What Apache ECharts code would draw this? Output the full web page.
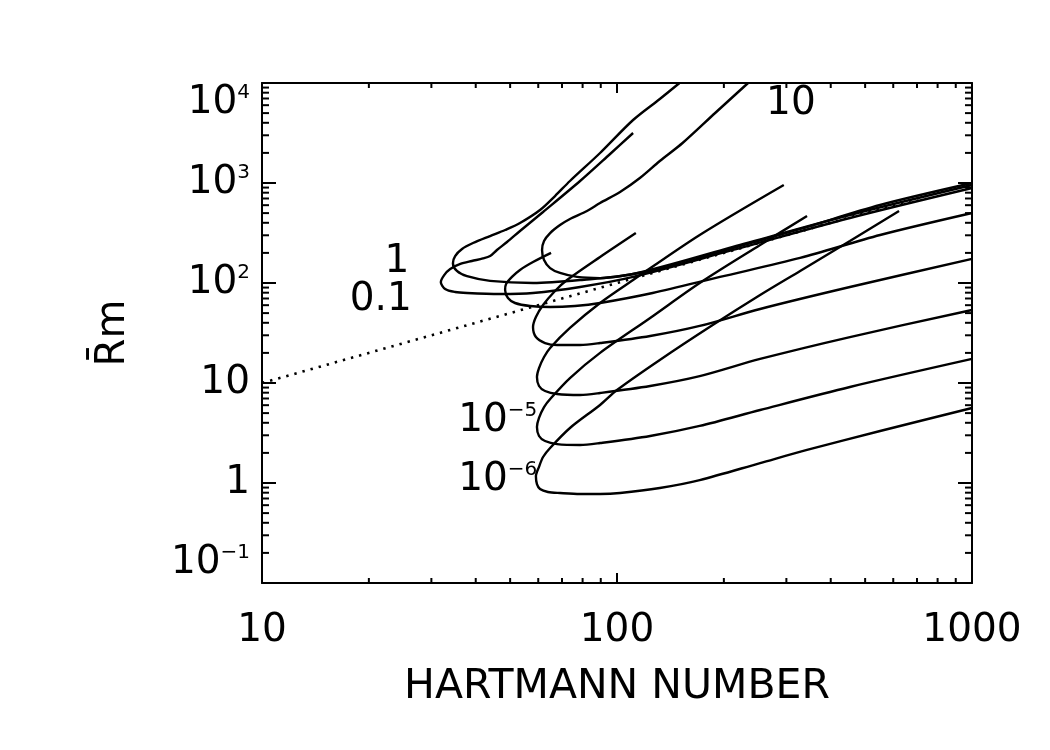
<!DOCTYPE html>
<html>
<head>
<meta charset="utf-8">
<script src="https://cdn.jsdelivr.net/npm/echarts@6/dist/echarts.min.js"></script>
<style>
html, body { margin: 0; padding: 0; background: #fff; }
#main { width: 1050px; height: 750px; }
</style>
</head>
<body>
<div id="main"></div>
<script>
var haRange = [10, 1000];
var rmRange = [0.1, 10000];
var minorSteps = [2, 3, 4, 5, 6, 7, 8, 9];
var haDecades = [10, 100];
var rmDecades = [0.1, 1, 10, 100, 1000];

// [Ha, Rm], one curve per Pm, from the end of the upper branch round to the lower one
var pm1e6 = [[623, 525], [453, 263], [328, 132], [253, 75.9], [186, 38.0], [132, 17.0], [100, 8.51],
  [89.6, 6.03], [73.7, 3.55], [64.8, 2.24], [61.9, 1.82], [60.3, 1.45], [59.1, 1.17], [59.5, 0.977],
  [60.7, 0.871], [63.9, 0.813], [69.1, 0.794], [78.7, 0.776], [89.6, 0.776], [102, 0.794], [132, 0.891],
  [171, 1.07], [253, 1.58], [343, 2.14], [551, 3.31], [1000, 5.62]];
var pm1e5 = [[343, 468], [253, 240], [171, 100], [124, 44.7], [89.6, 20.0], [73.7, 11.2], [65.2, 7.08],
  [62.3, 5.75], [60.3, 4.47], [59.5, 3.63], [60.3, 2.95], [62.7, 2.63], [67.8, 2.45], [78.7, 2.40],
  [89.6, 2.51], [124, 2.95], [171, 3.72], [253, 5.37], [453, 9.12], [1000, 17.4]];
var pm1e4 = [[295, 955], [171, 302], [111, 107], [89.6, 63.1], [73.7, 35.5], [64.8, 22.4], [62.3, 18.2],
  [60.3, 14.1], [59.5, 11.5], [60.3, 9.33], [62.7, 8.32], [67.8, 7.76], [78.7, 7.59], [89.6, 7.94],
  [124, 9.33], [171, 11.7], [253, 17.4], [453, 28.8], [1000, 53.7]];
var pm1e3 = [[113, 316], [89.6, 182], [72.3, 107], [66.9, 83.2], [61.9, 60.3], [59.1, 45.7], [58.0, 36.3],
  [59.1, 28.8], [62.7, 25.1], [67.8, 24.0], [78.7, 24.0], [89.6, 25.1], [124, 29.5], [171, 37.2],
  [253, 55.0], [453, 91.2], [1000, 174]];
var pm1e2 = [[65.2, 200], [58.0, 162], [53.3, 135], [50.6, 115], [48.7, 97.7], [48.4, 85.1], [49.3, 70.8],
  [51.6, 63.1], [56.9, 58.9], [64.8, 57.5], [76.1, 58.9], [89.6, 63.1], [126, 79.4], [195, 115],
  [328, 178], [551, 302], [1000, 501]];
var pm1e1 = [[111, 3162], [95.6, 1950], [78.7, 1047], [61.9, 513], [53.3, 331], [49.0, 257], [45.9, 214],
  [43.9, 186], [41.9, 176], [39.0, 166], [36.2, 155], [33.9, 138], [32.6, 120], [31.9, 102], [32.8, 87.1],
  [35.0, 81.3], [37.8, 79.4], [46.8, 77.6], [58.0, 79.4], [78.7, 91.2], [111, 115], [212, 214],
  [453, 447], [1000, 891]];
var pm1 = [[150, 10000], [132, 6918], [111, 4266], [89.6, 1995], [73.7, 1047], [66.9, 741], [60.7, 537],
  [53.3, 398], [48.4, 339], [43.9, 295], [39.3, 251], [36.6, 219], [35.0, 186], [34.5, 158], [35.4, 132],
  [37.8, 117], [43.9, 105], [58.0, 100], [78.7, 107], [111, 123], [212, 229], [453, 479], [1000, 955]];
var pm10 = [[234, 10000], [189, 5012], [153, 2512], [132, 1660], [116, 1122], [102, 813], [89.6, 631],
  [82.3, 525], [73.7, 437], [69.1, 380], [64.8, 316], [62.3, 263], [61.5, 214], [62.3, 170], [64.8, 141],
  [69.1, 126], [77.2, 115], [89.6, 112], [111, 123], [150, 155], [212, 224], [328, 347], [551, 603],
  [1000, 1000]];
var diagonal = [[10, 10], [1000, 1000]];

// curve labels
var noteBase = ['1', '0.1', '10', '10', '10'];
var noteSup = ['', '', '', '\u22125', '\u22126'];
var noteHa = [24.0, 21.6, 309, 35.7, 35.7];
var noteRm = [162, 67.6, 6166, 4.17, 1.07];

var font = 'DejaVu Sans';
var curves = [pm1e6, pm1e5, pm1e4, pm1e3, pm1e2, pm1e1, pm1, pm10];

var xMinor = [];
haDecades.forEach(function (d) {
  minorSteps.forEach(function (m) { xMinor.push([d * m, rmRange[0]]); });
});
var yMinor = [];
rmDecades.forEach(function (d) {
  minorSteps.forEach(function (m) { yMinor.push([haRange[0], d * m]); });
});
var notes = noteBase.map(function (b, i) { return [noteHa[i], noteRm[i], i]; });

function tickLine(x1, y1, x2, y2) {
  return { type: 'line', shape: { x1: x1, y1: y1, x2: x2, y2: y2 }, style: { stroke: '#000', lineWidth: 2 } };
}

function axisFmt(v) {
  var e = Math.round(Math.log10(v));
  if (e === 0) return '{b|1}';
  if (e === 1) return '{b|10}';
  return '{b|10}{s|' + (e < 0 ? '\u2212' + (-e) : e) + '}';
}

var rich = {
  b: { fontSize: 39, fontFamily: font, color: '#000', lineHeight: 40 },
  s: { fontSize: 20, fontFamily: font, color: '#000', lineHeight: 26, verticalAlign: 'top' }
};

var chart = echarts.init(document.getElementById('main'));

var series = curves.map(function (c) {
  return {
    type: 'line', data: c, showSymbol: false, smooth: 0.3, silent: true,
    lineStyle: { color: '#000', width: 2.4 }
  };
});
series.push({
  type: 'line', data: diagonal, showSymbol: false, silent: true,
  lineStyle: { color: '#000', width: 2.6, type: [2.4, 6] }
});
series.push({
  type: 'custom', data: xMinor, silent: true,
  renderItem: function (params, api) {
    var v = api.value(0);
    var b = api.coord([v, rmRange[0]]);
    var t = api.coord([v, rmRange[1]]);
    return { type: 'group', children: [tickLine(b[0], b[1], b[0], b[1] - 5), tickLine(t[0], t[1], t[0], t[1] + 5)] };
  }
});
series.push({
  type: 'custom', data: yMinor, silent: true,
  renderItem: function (params, api) {
    var v = api.value(1);
    var l = api.coord([haRange[0], v]);
    var r = api.coord([haRange[1], v]);
    return { type: 'group', children: [tickLine(l[0], l[1], l[0] + 7, l[1]), tickLine(r[0], r[1], r[0] - 7, r[1])] };
  }
});
series.push({
  type: 'custom', data: notes, silent: true,
  renderItem: function (params, api) {
    var i = api.value(2);
    var p = api.coord([api.value(0), api.value(1)]);
    var sup = noteSup[i];
    return {
      type: 'text', x: p[0], y: p[1],
      style: {
        text: '{b|' + noteBase[i] + '}' + (sup ? '{s|' + sup + '}' : ''),
        rich: rich, align: sup ? 'left' : 'center', verticalAlign: 'middle', fill: '#000'
      }
    };
  }
});

var axisLine = { show: true, lineStyle: { color: '#000', width: 2 } };

chart.setOption({
  animation: false,
  backgroundColor: '#fff',
  grid: { left: 262, top: 83, width: 710, height: 500 },
  xAxis: [{
    type: 'log', min: haRange[0], max: haRange[1], position: 'bottom',
    axisLine: axisLine,
    axisTick: { inside: true, length: 10, lineStyle: { color: '#000', width: 2 } },
    splitLine: { show: false },
    axisLabel: {
      fontSize: 39, fontFamily: font, color: '#000', margin: 28,
      formatter: function (v) { return String(Math.round(v)); }
    },
    name: 'HARTMANN NUMBER', nameLocation: 'middle', nameGap: 84,
    nameTextStyle: { fontSize: 41, fontFamily: font, color: '#000' }
  }, {
    type: 'log', min: haRange[0], max: haRange[1], position: 'top',
    axisLine: axisLine,
    axisTick: { inside: true, length: 10, lineStyle: { color: '#000', width: 2 } },
    splitLine: { show: false }, axisLabel: { show: false }
  }],
  yAxis: [{
    type: 'log', min: rmRange[0], max: rmRange[1], position: 'left',
    axisLine: axisLine,
    axisTick: { inside: true, length: 14, lineStyle: { color: '#000', width: 2 } },
    splitLine: { show: false },
    axisLabel: {
      formatter: axisFmt, rich: rich, margin: 12,
      verticalAlignMaxLabel: 'top', verticalAlignMinLabel: 'bottom'
    },
    name: 'R\u0304m', nameLocation: 'middle', nameGap: 128,
    nameTextStyle: { fontSize: 40, fontFamily: font, color: '#000' }
  }, {
    type: 'log', min: rmRange[0], max: rmRange[1], position: 'right',
    axisLine: axisLine,
    axisTick: { inside: true, length: 14, lineStyle: { color: '#000', width: 2 } },
    splitLine: { show: false }, axisLabel: { show: false }
  }],
  series: series
});
</script>
</body>
</html>
